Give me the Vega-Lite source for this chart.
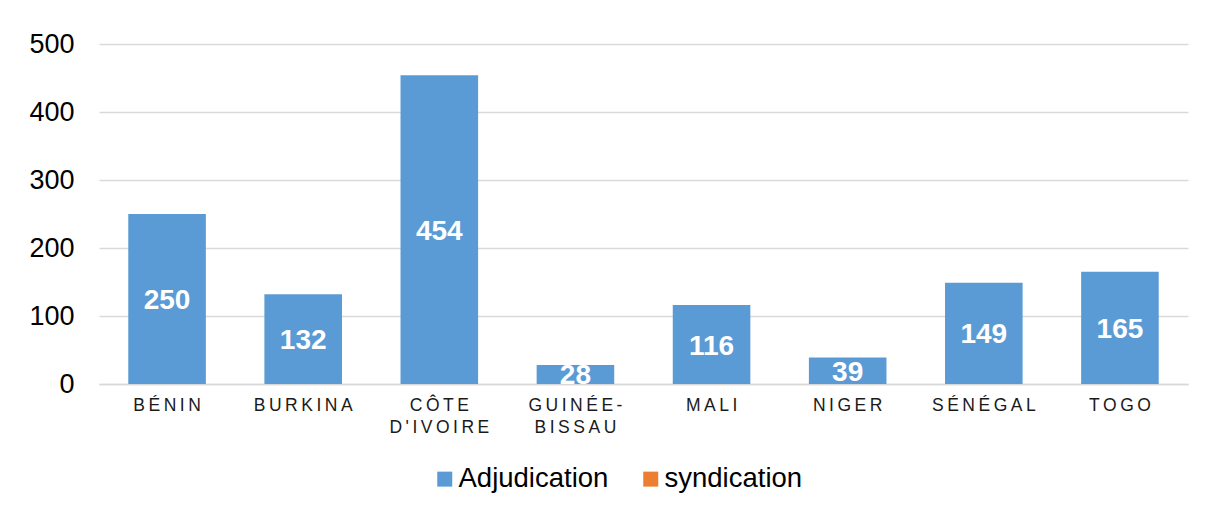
{
  "$schema": "https://vega.github.io/schema/vega-lite/v6.json",
  "autosize": "none",
  "width": 1089,
  "height": 340,
  "padding": {"left": 99, "top": 44, "right": 17, "bottom": 125},
  "background": "white",
  "config": {
    "view": {"stroke": null},
    "font": "Liberation Sans"
  },
  "data": {
    "values": [
      {"pays": "BÉNIN", "type": "Adjudication", "montant": 250},
      {"pays": "BURKINA", "type": "Adjudication", "montant": 132},
      {"pays": "CÔTE D'IVOIRE", "type": "Adjudication", "montant": 454},
      {"pays": "GUINÉE-BISSAU", "type": "Adjudication", "montant": 28},
      {"pays": "MALI", "type": "Adjudication", "montant": 116},
      {"pays": "NIGER", "type": "Adjudication", "montant": 39},
      {"pays": "SÉNÉGAL", "type": "Adjudication", "montant": 149},
      {"pays": "TOGO", "type": "Adjudication", "montant": 165}
    ]
  },
  "encoding": {
    "x": {
      "field": "pays",
      "type": "nominal",
      "sort": null,
      "scale": {"paddingInner": 0.43, "paddingOuter": 0.215},
      "axis": {
        "title": null,
        "labelAngle": 0,
        "labelFontSize": 17.5,
        "labelColor": "#1a1a1a",
        "labelPadding": 12,
        "ticks": false,
        "domain": true,
        "domainColor": "#d9d9d9",
        "domainWidth": 1.5,
        "labelLineHeight": 22,
        "labelBaseline": "top",
        "labelExpr": "indexof(replace(datum.label, '-', '- '), ' ') >= 0 ? [join(split(split(replace(datum.label, '-', '- '), ' ')[0], ''), '\u2009'), join(split(split(replace(datum.label, '-', '- '), ' ')[1], ''), '\u2009')] : join(split(datum.label, ''), '\u2009')"
      }
    }
  },
  "resolve": {"scale": {"y": "independent"}},
  "layer": [
    {
      "mark": {"type": "bar"},
      "encoding": {
        "y": {
          "field": "montant",
          "type": "quantitative",
          "scale": {"domain": [0, 500]},
          "axis": {
            "title": null,
            "values": [0, 100, 200, 300, 400, 500],
            "labelFontSize": 27,
            "labelColor": "#000000",
            "labelPadding": 25,
            "ticks": false,
            "domain": false,
            "gridColor": "#d9d9d9",
            "gridWidth": 1.5
          }
        },
        "color": {
          "field": "type",
          "type": "nominal",
          "scale": {"domain": ["Adjudication", "syndication"], "range": ["#5B9BD5", "#ED7D31"]},
          "legend": {
            "title": null,
            "orient": "none",
            "direction": "horizontal",
            "legendX": 332,
            "legendY": 421,
            "symbolType": "square",
            "symbolSize": 225,
            "symbolStrokeWidth": 0,
            "symbolOpacity": 1,
            "labelFontSize": 27.5,
            "labelColor": "#000000",
            "labelOffset": 0,
            "columnPadding": 28
          }
        }
      }
    },
    {
      "mark": {"type": "text", "color": "white", "fontSize": 28, "fontWeight": "bold", "baseline": "middle", "dy": 2},
      "encoding": {
        "y": {"field": "montant", "type": "quantitative", "scale": {"domain": [0, 1000]}, "axis": null},
        "text": {"field": "montant", "type": "quantitative"}
      }
    }
  ]
}
